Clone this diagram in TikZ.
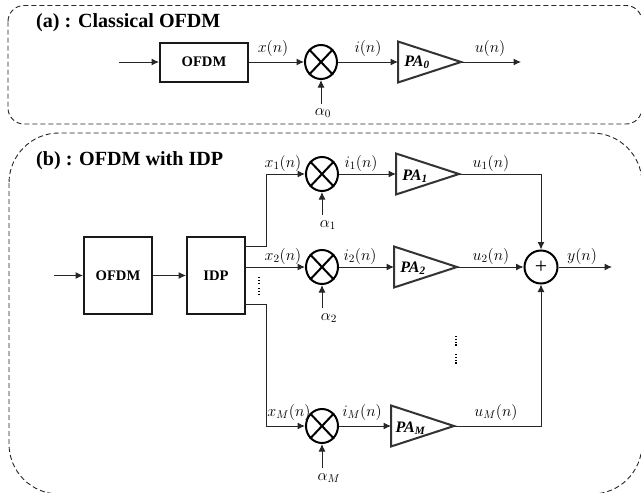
\RequirePackage{fix-cm}
\documentclass[tikz,border=0pt]{standalone}
\usepackage{fontspec}
\setmainfont{Liberation Serif}
\usetikzlibrary{arrows.meta,shapes.geometric,calc}
\tikzset{
  x=1pt,y=-1pt,
  panel/.style={draw=black!85,line width=0.9pt,dash pattern=on 5pt off 3pt},
  wire/.style={draw=black!85,line width=1pt},
  arr/.style={wire,-{Latex[length=7.5pt,width=7pt]}},
  blockbox/.style={draw=black!90,line width=2pt,inner sep=0pt,font=\fontsize{14.6}{14.6}\selectfont\bfseries},
  mixer/.style={draw=black,line width=2pt,ellipse,inner sep=0pt,minimum width=32pt,minimum height=34pt},
  tri/.style={draw=black!80,line width=2pt,line join=miter},
  patext/.style={font=\fontsize{16}{16}\selectfont\bfseries\itshape,inner sep=0pt},
  sig/.style={font=\fontsize{16}{16}\selectfont,inner sep=0pt},
  title/.style={font=\fontsize{20.1}{20.1}\selectfont\bfseries,inner sep=0pt,anchor=west},
  vdots/.style={draw=black,line width=1.2pt,dash pattern=on 1.2pt off 1.6pt}
}
% name, x of base, y of axis: amplifier triangle with named base and apex
\newcommand{\amptri}[3]{%
  \coordinate (#1l) at (#2,#3);
  \coordinate (#1a) at ($(#1l)+(63,0)$);
  \draw[tri] ($(#1l)+(0,-20.5)$) -- (#1a) -- ($(#1l)+(0,20.5)$) -- cycle;
}
\begin{document}
\begin{tikzpicture}
\clip (0,0) rectangle (641,493);
\fill[white] (0,0) rectangle (641,493);
% panels
\draw[panel,rounded corners=16pt] (8,5.5) rectangle (642,124);
\draw[panel,rounded corners=50pt] (9,133) rectangle (642,494);
\node[title] (ta) at (36,23) {(a) : Classical OFDM};
\node[title] (tb) at (36,161) {(b) : OFDM with IDP};
% panel a
\coordinate (ina) at (119,62);
\node[blockbox,minimum width=88pt,minimum height=39pt] (oa) at (204,62) {OFDM};
\node[mixer] (ma) at (321,62) {};
\draw[line width=2pt] (ma.north east)--(ma.south west) (ma.north west)--(ma.south east);
\amptri{pa0}{398}{62}
\node[patext] (pa0t) at (417,62) {PA\textsubscript{0}};
\coordinate (outa) at (521,62);
\node[sig] (aa) at (323,113) {$\alpha_0$};
\coordinate (aas) at (321,104);
\draw[arr] (ina) -- (oa.west);
\draw[arr] (oa.east) -- (ma.west);
\draw[arr] (ma.east) -- (pa0l);
\draw[arr] (pa0a) -- (outa);
\draw[arr] (aas) -- (ma.south);
\node[sig] (xa) at (273,48) {$x(n)$};
\node[sig] (ia) at (368,48) {$i(n)$};
\node[sig] (ua) at (490,48) {$u(n)$};
% panel b
\coordinate (inb) at (54,275.5);
\node[blockbox,minimum width=68pt,minimum height=77pt] (ob) at (118,275.5) {OFDM};
\node[blockbox,minimum width=58pt,minimum height=77pt] (idp) at (216,275.5) {IDP};
\coordinate (o1) at (245,246);
\coordinate (o2) at (245,267);
\coordinate (o3) at (245,304);
\node[mixer] (m1) at (322,174) {};
\node[mixer] (m2) at (322,267) {};
\node[mixer] (m3) at (322,426) {};
\foreach \m in {m1,m2,m3}
  \draw[line width=2pt] (\m.north east)--(\m.south west) (\m.north west)--(\m.south east);
\amptri{pa1}{396}{174}
\amptri{pa2}{394}{267}
\amptri{pa3}{391}{426}
\node[patext] (pa1t) at (415,176) {PA\textsubscript{1}};
\node[patext] (pa2t) at (413,268) {PA\textsubscript{2}};
\node[patext] (pa3t) at (410.5,428) {PA\textsubscript{\textit{M}}};
\node[draw=black,line width=2pt,circle,inner sep=0pt,minimum size=33pt] (sum) at (541,267) {};
\node[inner sep=0pt,font=\fontsize{22}{22}\selectfont] (plus) at (541,267) {+};
\coordinate (outb) at (612,267);
\coordinate (a1s) at (322,215);
\coordinate (a2s) at (322,308);
\coordinate (a3s) at (322,468);
\draw[arr] (inb) -- (ob.west);
\draw[arr] (ob.east) -- (idp.west);
\draw[arr] (o1) -- ++(21,0) |- (m1.west);
\draw[arr] (o2) -- (m2.west);
\draw[arr] (o3) -- ++(21,0) |- (m3.west);
\draw[arr] (m1.east) -- (pa1l);
\draw[arr] (m2.east) -- (pa2l);
\draw[arr] (m3.east) -- (pa3l);
\draw[arr] (a1s) -- (m1.south);
\draw[arr] (a2s) -- (m2.south);
\draw[arr] (a3s) -- (m3.south);
\draw[arr] (pa1a) -| (sum.north);
\draw[arr] (pa2a) -- (sum.west);
\draw[arr] (pa3a) -| (sum.south);
\draw[arr] (sum.east) -- (outb);
\node[sig] (a1) at (328,225) {$\alpha_1$};
\node[sig] (a2) at (329,318) {$\alpha_2$};
\node[sig] (a3) at (329,478) {$\alpha_M$};
\node[sig] (x1) at (283,163) {$x_1(n)$};
\node[sig] (x2) at (283,256) {$x_2(n)$};
\node[sig] (x3) at (289,412) {$x_M(n)$};
\node[sig] (i1) at (361,163) {$i_1(n)$};
\node[sig] (i2) at (360,256) {$i_2(n)$};
\node[sig] (i3) at (362,412) {$i_M(n)$};
\node[sig] (u1) at (491,163) {$u_1(n)$};
\node[sig] (u2) at (491,256) {$u_2(n)$};
\node[sig] (u3) at (496,412) {$u_M(n)$};
\node[sig] (y) at (582,256) {$y(n)$};
% dots
\draw[vdots] (259,277) -- (259,285);
\draw[vdots] (259,288) -- (259,296);
\draw[vdots] (456,336) -- (456,347);
\draw[vdots] (456,354) -- (456,365);
\end{tikzpicture}
\end{document}
